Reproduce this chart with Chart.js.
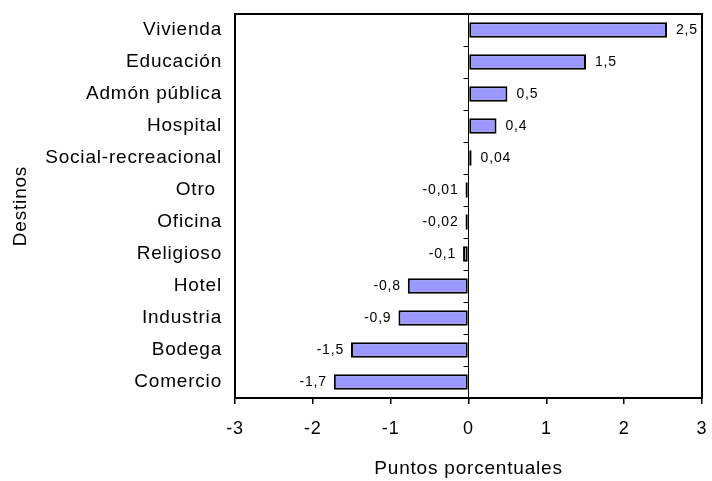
<!DOCTYPE html>
<html lang="es">
<head>
    <meta charset="UTF-8">
    <title>Destinos - Puntos porcentuales</title>
    <script src="https://cdn.jsdelivr.net/npm/chart.js"></script>
    <style>
        html, body { margin: 0; padding: 0; background: #fff; }
    </style>
</head>
<body>
    <canvas id="destinosChart" width="712" height="481"></canvas>

    <script>
        // Data
        const categories = ['Vivienda', 'Educación', 'Admón pública', 'Hospital', 'Social-recreacional',
            'Otro ', 'Oficina', 'Religioso', 'Hotel', 'Industria', 'Bodega', 'Comercio'];
        const values = [2.55, 1.51, 0.5, 0.36, 0.04, -0.01, -0.02, -0.07, -0.78, -0.9, -1.51, -1.73];
        const valueLabels = ['2,5', '1,5', '0,5', '0,4', '0,04', '-0,01', '-0,02', '-0,1', '-0,8', '-0,9', '-1,5', '-1,7'];
        const xTicks = [-3, -2, -1, 0, 1, 2, 3];

        const FONT = "'Liberation Sans', Arial, sans-serif";

        // the original text is set a bit wide, so add some letter spacing
        const spacing = {
            id: 'spacing',
            beforeUpdate(chart) { chart.ctx.letterSpacing = '0.8px'; },
            beforeDraw(chart) { chart.ctx.letterSpacing = '0.8px'; }
        };

        // Box around plot, zero line with small ticks, value labels
        const decorations = {
            id: 'decorations',
            afterDatasetsDraw(chart) {
                const ctx = chart.ctx;
                const area = chart.chartArea;
                const x0 = chart.scales.x.getPixelForValue(0);
                const step = (area.bottom - area.top) / categories.length;

                ctx.save();
                ctx.strokeStyle = '#000';
                ctx.lineWidth = 1;
                ctx.beginPath();
                ctx.moveTo(x0, area.top);
                ctx.lineTo(x0, area.bottom);
                for (let i = 1; i < categories.length; i++) {
                    const y = Math.round(area.top + i * step) + 0.5;
                    ctx.moveTo(x0 - 5, y);
                    ctx.lineTo(x0, y);
                }
                ctx.stroke();

                ctx.lineWidth = 2;
                ctx.strokeRect(area.left, area.top, area.right - area.left, area.bottom - area.top);

                // value labels
                ctx.font = '14px ' + FONT;
                ctx.fillStyle = '#000';
                ctx.textBaseline = 'middle';
                const meta = chart.getDatasetMeta(0);
                meta.data.forEach((bar, i) => {
                    if (values[i] >= 0) {
                        ctx.textAlign = 'left';
                        ctx.fillText(valueLabels[i], bar.x + 9, bar.y);
                    } else {
                        ctx.textAlign = 'right';
                        ctx.fillText(valueLabels[i], bar.x - 7, bar.y);
                    }
                });
                ctx.restore();
            }
        };

        const ctx = document.getElementById('destinosChart').getContext('2d');
        new Chart(ctx, {
            type: 'bar',
            data: {
                labels: categories,
                datasets: [{
                    data: values,
                    backgroundColor: '#9999FF',
                    borderColor: '#000',
                    borderWidth: 2,
                    borderSkipped: false,
                    minBarLength: 3,
                    barPercentage: 0.94,
                    categoryPercentage: 0.52
                }]
            },
            options: {
                indexAxis: 'y',
                responsive: false,
                animation: false,
                layout: { padding: { top: 14, right: 10, left: 0, bottom: 0 } },
                plugins: {
                    legend: { display: false },
                    tooltip: { enabled: false }
                },
                scales: {
                    x: {
                        min: -3,
                        max: 3,
                        afterBuildTicks: scale => { scale.ticks = xTicks.map(v => ({ value: v })); },
                        afterFit: scale => {
                            scale.height = 83;
                            scale.paddingLeft = 0;
                            scale.paddingRight = 0;
                        },
                        grid: {
                            drawOnChartArea: false,
                            drawTicks: true,
                            tickLength: 6,
                            color: '#000',
                            lineWidth: 1.5
                        },
                        border: { color: '#000', width: 2 },
                        ticks: {
                            color: '#000',
                            font: { family: FONT, size: 18 },
                            padding: 14,
                            maxRotation: 0
                        },
                        title: {
                            display: true,
                            text: 'Puntos porcentuales',
                            color: '#000',
                            font: { family: FONT, size: 19 },
                            padding: { top: 4, bottom: 1 }
                        }
                    },
                    y: {
                        afterFit: scale => {
                            scale.width = 235;
                            scale.paddingTop = 0;
                            scale.paddingBottom = 0;
                        },
                        grid: { display: false, drawTicks: false },
                        border: { display: false },
                        ticks: {
                            color: '#000',
                            font: { family: FONT, size: 19 },
                            padding: 13,
                            autoSkip: false
                        },
                        title: {
                            display: true,
                            text: 'Destinos',
                            color: '#000',
                            font: { family: FONT, size: 19 },
                            padding: { top: 9, bottom: 4 }
                        }
                    }
                }
            },
            plugins: [spacing, decorations]
        });
    </script>
</body>
</html>
